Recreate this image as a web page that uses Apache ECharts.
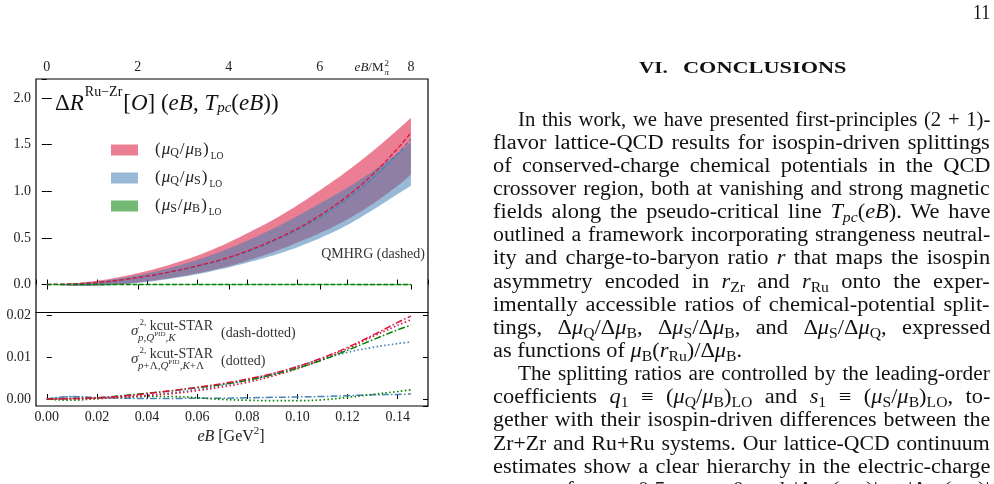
<!DOCTYPE html>
<html>
<head>
<meta charset="utf-8">
<script src="https://cdn.jsdelivr.net/npm/echarts@6/dist/echarts.min.js"></script>
<style>
  html, body { margin: 0; padding: 0; background: #fff; }
  #page { position: relative; width: 994px; height: 484px; overflow: hidden; }
  #chart { position: absolute; left: 0; top: 0; width: 994px; height: 484px; }
  #text { position: absolute; left: 0; top: 0; width: 994px; height: 484px; font-family: 'Liberation Serif', serif; color: #111; pointer-events: none; }
  #pnum { position: absolute; left: 973px; top: 1px; font-size: 20px; line-height: 23px; display: inline-block; transform-origin: 0 0; }
  .sec { position: absolute; top: 57px; font-size: 17.5px; line-height: 20px; font-weight: bold; white-space: nowrap; display: inline-block; transform-origin: 0 0; }
  .ln { position: absolute; left: 493px; width: 497px; height: 23px; line-height: 23.13px; font-size: 20px; white-space: nowrap; }
  .ln > span { display: inline-block; transform-origin: 0 0; }
  .ln sub { font-size: 70%; vertical-align: baseline; position: relative; top: 0.3em; line-height: 0; }
</style>
</head>
<body>
<div id="page">
  <div id="chart"></div>
  <div id="text">
    <div id="pnum">11</div>
    <div class="sec" id="sec1" style="left:639px">VI.</div>
    <div class="sec" id="sec2" style="left:683px">CONCLUSIONS</div>
    <div class="ln ind"><span>In this work, we have presented first-principles (2 + 1)-</span></div>
    <div class="ln"><span>flavor lattice-QCD results for isospin-driven splittings</span></div>
    <div class="ln"><span>of conserved-charge chemical potentials in the QCD</span></div>
    <div class="ln"><span>crossover region, both at vanishing and strong magnetic</span></div>
    <div class="ln"><span>fields along the pseudo-critical line <i>T</i><sub><i>pc</i></sub>(<i>eB</i>). We have</span></div>
    <div class="ln"><span>outlined a framework incorporating strangeness neutral-</span></div>
    <div class="ln"><span>ity and charge-to-baryon ratio <i>r</i> that maps the isospin</span></div>
    <div class="ln"><span>asymmetry encoded in <i>r</i><sub>Zr</sub> and <i>r</i><sub>Ru</sub> onto the exper-</span></div>
    <div class="ln"><span>imentally accessible ratios of chemical-potential split-</span></div>
    <div class="ln"><span>tings, Δ<i>μ</i><sub>Q</sub>/Δ<i>μ</i><sub>B</sub>, Δ<i>μ</i><sub>S</sub>/Δ<i>μ</i><sub>B</sub>, and Δ<i>μ</i><sub>S</sub>/Δ<i>μ</i><sub>Q</sub>, expressed</span></div>
    <div class="ln last"><span>as functions of <i>μ</i><sub>B</sub>(<i>r</i><sub>Ru</sub>)/Δ<i>μ</i><sub>B</sub>.</span></div>
    <div class="ln ind"><span>The splitting ratios are controlled by the leading-order</span></div>
    <div class="ln"><span>coefficients <i>q</i><sub>1</sub> ≡ (<i>μ</i><sub>Q</sub>/<i>μ</i><sub>B</sub>)<sub>LO</sub> and <i>s</i><sub>1</sub> ≡ (<i>μ</i><sub>S</sub>/<i>μ</i><sub>B</sub>)<sub>LO</sub>, to-</span></div>
    <div class="ln"><span>gether with their isospin-driven differences between the</span></div>
    <div class="ln"><span>Zr+Zr and Ru+Ru systems. Our lattice-QCD continuum</span></div>
    <div class="ln"><span>estimates show a clear hierarchy in the electric-charge</span></div>
    <div class="ln"><span>sector of <i>q</i><sub>1</sub> ≲ 0.5, <i>s</i><sub>1</sub> ≲ 0 and |Δ<i>q</i><sub>1</sub>(<i>r</i><sub>Ru</sub>)| &gt; |Δ<i>s</i><sub>1</sub>(<i>r</i><sub>Ru</sub>)|</span></div>
  </div>
</div>
<script>
// eB grid [GeV^2], curves end at eB = 8 M_pi^2
const eB = [0, 0.01, 0.02, 0.03, 0.04, 0.05, 0.06, 0.07, 0.08, 0.09, 0.10, 0.11, 0.12, 0.13, 0.14, 0.1453]

// top panel: bands (lower / upper) and QMHRG dashed lines
const qbLo = [0, -0.012, -0.01, 0.006, 0.034, 0.072, 0.12, 0.18, 0.255, 0.345, 0.45, 0.565, 0.70, 0.865, 1.06, 1.18]
const qbHi = [0, 0.012, 0.04, 0.085, 0.145, 0.22, 0.31, 0.42, 0.55, 0.69, 0.85, 1.03, 1.22, 1.43, 1.66, 1.79]
const qsLo = [0, -0.014, -0.014, 0.0, 0.028, 0.065, 0.11, 0.168, 0.235, 0.31, 0.40, 0.51, 0.64, 0.80, 0.97, 1.06]
const qsHi = [0, 0.009, 0.032, 0.07, 0.12, 0.185, 0.265, 0.36, 0.47, 0.595, 0.735, 0.885, 1.04, 1.215, 1.41, 1.52]
const sbLo = [0, -0.002, -0.003, -0.003, -0.004, -0.004, -0.004, -0.005, -0.005, -0.005, -0.006, -0.006, -0.006, -0.007, -0.007, -0.007]
const sbHi = [0, 0.002, 0.003, 0.003, 0.004, 0.004, 0.004, 0.005, 0.005, 0.005, 0.006, 0.006, 0.006, 0.007, 0.007, 0.007]
const qbQmhrg = [0, 0.006, 0.022, 0.05, 0.09, 0.14, 0.20, 0.27, 0.36, 0.47, 0.60, 0.76, 0.95, 1.18, 1.46, 1.63]
const qsQmhrg = [0, 0.005, 0.021, 0.049, 0.088, 0.137, 0.195, 0.264, 0.352, 0.46, 0.585, 0.74, 0.92, 1.14, 1.40, 1.56]
const sbQmhrg = [0, 0, 0, 0, 0, 0, 0, 0, 0, 0, 0, 0, 0, 0, 0, 0]

// bottom panel: kcut-STAR sigma^2 curves
const qbDashDot = [0, 0.0001, 0.0003, 0.0007, 0.0013, 0.0020, 0.0028, 0.0037, 0.0048, 0.0061, 0.0078, 0.0099, 0.0124, 0.0153, 0.0184, 0.0199]
const sbDashDot = [0, 0.0001, 0.0003, 0.0008, 0.0014, 0.0020, 0.0027, 0.0035, 0.0045, 0.0058, 0.0074, 0.0094, 0.0117, 0.0142, 0.0166, 0.0177]
const qsDashDot = [0, 0.0006, 0.0003, 0.0002, 0.0001, 0.0001, 0.0002, 0.0002, 0.0003, 0.0004, 0.0005, 0.0006, 0.0008, 0.0010, 0.0011, 0.0012]
const qbDot = [0, 0.0000, 0.0001, 0.0004, 0.0008, 0.0013, 0.0020, 0.0029, 0.0040, 0.0055, 0.0073, 0.0095, 0.0121, 0.0150, 0.0177, 0.0190]
const qsDot = [0, 0.0005, 0.0003, 0.0005, 0.0009, 0.0015, 0.0023, 0.0033, 0.0045, 0.0060, 0.0078, 0.0096, 0.0112, 0.0124, 0.0133, 0.0137]
const sbDot = [0, -0.0003, 0.0001, 0.0004, 0.0006, 0.0006, 0.0003, -0.0001, -0.0003, -0.0004, -0.0004, -0.0002, 0.0004, 0.0011, 0.0018, 0.0022]

const legendLabels = {
  qb: '{p0|(}{it|μ}{s|Q}{t|/}{it|μ}{s|B}{t|)}{lo|LO}',
  qs: '{p0|(}{it|μ}{s|Q}{t|/}{it|μ}{s|S}{t|)}{lo|LO}',
  sb: '{p0|(}{it|μ}{s|S}{t|/}{it|μ}{s|B}{t|)}{lo|LO}'
}

const F = 'Liberation Serif'
const M2 = 0.01816       // M_pi^2 in GeV^2
const XMIN = -0.0043
const XMAX = 0.1521
const SM = 0.35

const RED = 'rgb(220,20,60)'
const BLUE = 'rgb(70,130,180)'
const GREEN = 'rgb(0,128,0)'
const RED_F = 'rgba(220,20,60,0.55)'
const BLUE_F = 'rgba(70,130,180,0.55)'
const GREEN_F = 'rgba(0,128,0,0.55)'

function pts(ys) {
  return eB.map((x, i) => [x, ys[i]])
}

// catmull-rom smoothing of already projected pixel points
function smoothPx(p) {
  const out = []
  for (let i = 0; i < p.length - 1; i++) {
    const p0 = p[Math.max(i - 1, 0)], p1 = p[i], p2 = p[i + 1], p3 = p[Math.min(i + 2, p.length - 1)]
    for (let k = 0; k < 8; k++) {
      const t = k / 8, t2 = t * t, t3 = t2 * t
      out.push([0, 1].map(d => 0.5 * (2 * p1[d] + (-p0[d] + p2[d]) * t +
        (2 * p0[d] - 5 * p1[d] + 4 * p2[d] - p3[d]) * t2 + (-p0[d] + 3 * p1[d] - 3 * p2[d] + p3[d]) * t3)))
    }
  }
  out.push(p[p.length - 1])
  return out
}

function band(key, lo, hi, color) {
  return {
    name: key, type: 'custom', xAxisIndex: 0, yAxisIndex: 0, silent: true, z: 2,
    itemStyle: { color: color },
    data: eB.map((x, i) => [x, lo[i], hi[i]]),
    encode: { x: 0, y: [1, 2] },
    renderItem: (params, api) => {
      if (params.dataIndex !== 0) return null
      const top = smoothPx(eB.map((x, i) => api.coord([x, hi[i]])))
      const bot = smoothPx(eB.map((x, i) => api.coord([x, lo[i]]))).reverse()
      return { type: 'polygon', shape: { points: top.concat(bot) }, style: { fill: color } }
    }
  }
}

function curve(ys, color, dash, panel, width) {
  return {
    type: 'line', xAxisIndex: panel, yAxisIndex: panel, data: pts(ys),
    symbol: 'none', smooth: SM, silent: true, z: 3,
    lineStyle: { color: color, width: width, type: dash }
  }
}

function onStep(v, step) {
  return Math.abs(v / step - Math.round(v / step)) < 1e-6
}

function label(x, y, text, rich, align) {
  const a = align || 'left'
  return {
    type: 'text', x: x, y: y, silent: true, z: 10,
    style: {
      text: text, rich: rich, fill: '#222', fontFamily: F, fontSize: 14, lineHeight: 44,
      align: a, verticalAlign: 'middle', textAlign: a, textVerticalAlign: 'middle'
    }
  }
}

function tk(size, extra) {
  return Object.assign({ fontFamily: F, fontSize: size, lineHeight: 44, fill: '#222' }, extra || {})
}

const DASH = [4.6, 2]
const DASHDOT = [7, 2.2, 1.5, 2.2]
const DOT = [1.5, 2.4]

const tick = { show: true, inside: true, length: 5, lineStyle: { color: '#000', width: 1 } }
const lab = { fontFamily: F, fontSize: 14, color: '#222' }

const chart = echarts.init(document.getElementById('chart'), null, { renderer: 'canvas' })

const option = {
  animation: false,
  backgroundColor: 'transparent',
  grid: [
    { left: 36, top: 79, width: 392, height: 233.5, show: true, borderColor: '#000', borderWidth: 1.2, backgroundColor: 'transparent', outerBoundsMode: 'none' },
    { left: 36, top: 312.5, width: 392, height: 93.5, show: true, borderColor: '#000', borderWidth: 1.2, backgroundColor: 'transparent', outerBoundsMode: 'none' }
  ],
  xAxis: [
    {
      gridIndex: 0, type: 'value', position: 'bottom', min: XMIN, max: XMAX,
      splitNumber: 8, minInterval: 0.02, maxInterval: 0.02,
      axisLine: { show: false }, axisTick: tick, axisLabel: { show: false }, splitLine: { show: false }
    },
    {
      gridIndex: 0, type: 'value', position: 'top', min: XMIN / M2, max: XMAX / M2,
      splitNumber: 4, minInterval: 2, maxInterval: 2,
      axisLine: { show: false }, axisTick: tick, splitLine: { show: false },
      axisLabel: Object.assign({ margin: 5, showMinLabel: false, showMaxLabel: false,
        formatter: v => onStep(v, 2) ? String(Math.round(v)) : '' }, lab)
    },
    {
      gridIndex: 1, type: 'value', position: 'bottom', min: XMIN, max: XMAX,
      splitNumber: 8, minInterval: 0.02, maxInterval: 0.02,
      axisLine: { show: false }, axisTick: tick, splitLine: { show: false },
      axisLabel: Object.assign({ margin: 4, showMinLabel: false, showMaxLabel: false,
        formatter: v => onStep(v, 0.02) ? v.toFixed(2) : '' }, lab)
    }
  ],
  yAxis: [
    {
      gridIndex: 0, type: 'value', position: 'left', min: -0.3, max: 2.205,
      splitNumber: 5, minInterval: 0.5, maxInterval: 0.5,
      axisLine: { show: false }, axisTick: tick, splitLine: { show: false },
      axisLabel: Object.assign({ margin: 5, showMinLabel: false, showMaxLabel: false,
        formatter: v => onStep(v, 0.5) ? Math.abs(v).toFixed(1) : '' }, lab)
    },
    {
      gridIndex: 0, type: 'value', position: 'right', min: -0.3, max: 2.205,
      splitNumber: 5, minInterval: 0.5, maxInterval: 0.5,
      axisLine: { show: false }, axisTick: tick, splitLine: { show: false }, axisLabel: { show: false }
    },
    {
      gridIndex: 1, type: 'value', position: 'left', min: -0.00168, max: 0.02077,
      splitNumber: 2, minInterval: 0.01, maxInterval: 0.01,
      axisLine: { show: false }, axisTick: tick, splitLine: { show: false },
      axisLabel: Object.assign({ margin: 5, showMinLabel: false, showMaxLabel: false,
        formatter: v => onStep(v, 0.01) ? Math.abs(v).toFixed(2) : '' }, lab)
    },
    {
      gridIndex: 1, type: 'value', position: 'right', min: -0.00168, max: 0.02077,
      splitNumber: 2, minInterval: 0.01, maxInterval: 0.01,
      axisLine: { show: false }, axisTick: tick, splitLine: { show: false }, axisLabel: { show: false }
    }
  ],
  legend: {
    orient: 'vertical', left: 111, top: 138, padding: 0,
    itemWidth: 27, itemHeight: 11, itemGap: 4, selectedMode: false,
    data: [
      { name: 'qb', icon: 'rect', itemStyle: { color: RED_F, borderWidth: 0 } },
      { name: 'qs', icon: 'rect', itemStyle: { color: BLUE_F, borderWidth: 0 } },
      { name: 'sb', icon: 'rect', itemStyle: { color: GREEN_F, borderWidth: 0 } }
    ],
    formatter: n => legendLabels[n],
    textStyle: {
      fontFamily: F, fontSize: 17, color: '#222', lineHeight: 24,
      rich: {
        p0: { fontFamily: F, fontSize: 17, lineHeight: 24, color: '#222', padding: [0, 1, 0, 12] },
        t: { fontFamily: F, fontSize: 17, lineHeight: 24, color: '#222', padding: [0, 1, 0, 1] },
        it: { fontFamily: F, fontSize: 17, fontStyle: 'italic', lineHeight: 24, color: '#222' },
        s: { fontFamily: F, fontSize: 12, lineHeight: 24, color: '#222', padding: [6, 0, 0, 0] },
        lo: { fontFamily: F, fontSize: 9.5, lineHeight: 24, color: '#222', padding: [12, 0, 0, 1] }
      }
    }
  },
  graphic: [
    label(55, 104, '{m|Δ}{i|R}{sup|Ru−Zr}{m|[}{i|O}{m|] (}{i|eB}{m|, }{i|T}{sub|pc}{m|(}{i|eB}{m|))}', {
      m: tk(23, { fill: '#111' }), i: tk(23, { fontStyle: 'italic', fill: '#111' }),
      sup: tk(14, { fill: '#111', padding: [0, 1, 24, 1] }),
      sub: tk(15, { fontStyle: 'italic', fill: '#111', padding: [9, 0, 0, 0] })
    }),
    label(425, 254, '{t|QMHRG (dashed)}', { t: tk(14, { fill: '#333' }) }, 'right'),
    label(383.5, 68, '{i|eB}{t|/M}', { i: tk(13, { fontStyle: 'italic' }), t: tk(13) }, 'right'),
    label(384.5, 63.5, '{t|2}', { t: tk(9) }),
    label(384.5, 72.5, '{i|π}', { i: tk(9, { fontStyle: 'italic' }) }),
    label(231, 437, '{i|eB}{t| [GeV}{sup|2}{t|]}', {
      i: tk(16, { fontStyle: 'italic' }), t: tk(16), sup: tk(11, { padding: [0, 0, 12, 0] })
    }, 'center'),
    // sigma annotations in lower panel
    label(131, 331, '{i|σ}', { i: tk(15, { fontStyle: 'italic', fill: '#333' }) }),
    label(139.5, 326, '{a|2,} {k|kcut-STAR}', { a: tk(9, { fill: '#333', padding: [0, 0, 6, 0] }), k: tk(14, { fill: '#333' }) }),
    label(138, 338, '{i|p}{r|,}{i|Q}{p|PID}{r|,}{i|K}', {
      i: tk(11, { fontStyle: 'italic', fill: '#333' }), r: tk(11, { fill: '#333' }), p: tk(7, { fill: '#333', padding: [0, 0, 8, 0] })
    }),
    label(221, 333, '{t|(dash-dotted)}', { t: tk(14, { fill: '#333' }) }),
    label(131, 359, '{i|σ}', { i: tk(15, { fontStyle: 'italic', fill: '#333' }) }),
    label(139.5, 354, '{a|2,} {k|kcut-STAR}', { a: tk(9, { fill: '#333', padding: [0, 0, 6, 0] }), k: tk(14, { fill: '#333' }) }),
    label(138, 366, '{i|p}{r|+Λ,}{i|Q}{p|PID}{r|,}{i|K}{r|+Λ}', {
      i: tk(11, { fontStyle: 'italic', fill: '#333' }), r: tk(11, { fill: '#333' }), p: tk(7, { fill: '#333', padding: [0, 0, 8, 0] })
    }),
    label(221, 361, '{t|(dotted)}', { t: tk(14, { fill: '#333' }) })
  ],
  series: [
    band('qb', qbLo, qbHi, RED_F),
    band('qs', qsLo, qsHi, BLUE_F),
    band('sb', sbLo, sbHi, GREEN_F),
    curve(qsQmhrg, BLUE, DASH, 0, 1.3),
    curve(qbQmhrg, RED, DASH, 0, 1.3),
    curve(sbQmhrg, GREEN, DASH, 0, 1.4),
    curve(qsDashDot, BLUE, DASHDOT, 2, 1.5),
    curve(sbDot, GREEN, DOT, 2, 1.7),
    curve(qsDot, BLUE, DOT, 2, 1.7),
    curve(qbDot, RED, DOT, 2, 1.7),
    curve(sbDashDot, GREEN, DASHDOT, 2, 1.5),
    curve(qbDashDot, RED, DASHDOT, 2, 1.5)
  ]
}

chart.setOption(option)

// text column: place lines and justify them by word spacing
const LINE_TOP = 107.7
const LINE_STEP = 23.13
const COL_W = 497
const INDENT = 25
const STRETCH = 1.12

function layoutText() {
  document.querySelectorAll('.ln').forEach((ln, i) => {
    ln.style.top = (LINE_TOP + i * LINE_STEP) + 'px'
    const span = ln.firstElementChild
    const ind = ln.classList.contains('ind') ? INDENT : 0
    span.style.marginLeft = ind + 'px'
    span.style.wordSpacing = '0px'
    span.style.transform = 'none'
    const w = span.offsetWidth
    const n = (span.textContent.match(/ /g) || []).length
    const target = COL_W - ind
    if (ln.classList.contains('last')) {
      span.style.transform = 'scaleX(' + STRETCH + ')'
      return
    }
    // stretch glyphs toward the wider original face, keep some slack for the spaces
    const s = Math.min(STRETCH, (target - n * 1.5) / w)
    span.style.transform = 'scaleX(' + s + ')'
    if (n) span.style.wordSpacing = ((target / s - w) / n) + 'px'
  })
  fitScale(document.getElementById('sec1'), 29)
  fitScale(document.getElementById('sec2'), 163)
  fitScale(document.getElementById('pnum'), 17)
}

function fitScale(el, target) {
  el.style.transform = 'none'
  const w = el.offsetWidth
  el.style.transform = 'scaleX(' + (target / w) + ')'
}

layoutText()
if (document.fonts && document.fonts.ready) document.fonts.ready.then(layoutText)
</script>
</body>
</html>
